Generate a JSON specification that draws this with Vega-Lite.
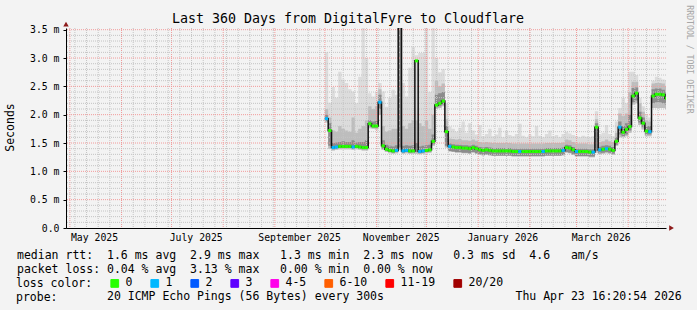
{
  "$schema": "https://vega.github.io/schema/vega-lite/v6.json",
  "width": 600,
  "height": 200,
  "autosize": {"type": "none"},
  "padding": {"left": 66, "top": 28, "right": 31, "bottom": 82},
  "background": "#f3f3f3",
  "config": {
    "view": {"stroke": null, "fill": "#ffffff"},
    "axis": {"labelFont": "DejaVu Sans Mono", "titleFont": "DejaVu Sans Mono", "labelColor": "#000000", "titleColor": "#000000", "domainColor": "#000000", "tickColor": "#000000", "titleFontWeight": "normal"}
  },
  "title": {"text": "Last 360 Days from DigitalFyre to Cloudflare", "font": "DejaVu Sans Mono", "fontSize": 13.3, "fontWeight": "normal", "color": "#000000", "anchor": "middle", "frame": "group", "baseline": "alphabetic", "dx": -18, "dy": 36, "offset": 4},
  "datasets": {
    "ping": [
      {"t": "2025-10-01T00:00:00", "m": 1.93, "l": "1", "lo": 1.86, "dl": 1.89, "dh": 2.0, "q2": 2.1, "hi": 3.1},
      {"t": "2025-10-03T00:00:00", "m": 1.72, "l": "0", "lo": 1.4, "dl": 1.45, "dh": 1.85, "q2": 1.95, "hi": 2.21},
      {"t": "2025-10-05T00:00:00", "m": 1.42, "l": "1", "lo": 1.37, "dl": 1.39, "dh": 1.5, "q2": 1.72, "hi": 2.49},
      {"t": "2025-10-07T00:00:00", "m": 1.43, "l": "1", "lo": 1.38, "dl": 1.4, "dh": 1.51, "q2": 1.7, "hi": 2.3},
      {"t": "2025-10-09T00:00:00", "m": 1.44, "l": "0", "lo": 1.39, "dl": 1.41, "dh": 1.52, "q2": 1.8, "hi": 2.76},
      {"t": "2025-10-11T00:00:00", "m": 1.44, "l": "0", "lo": 1.39, "dl": 1.41, "dh": 1.53, "q2": 1.75, "hi": 2.62},
      {"t": "2025-10-13T00:00:00", "m": 1.44, "l": "0", "lo": 1.39, "dl": 1.41, "dh": 1.52, "q2": 1.72, "hi": 2.56},
      {"t": "2025-10-15T00:00:00", "m": 1.44, "l": "0", "lo": 1.39, "dl": 1.41, "dh": 1.52, "q2": 1.7, "hi": 2.45},
      {"t": "2025-10-17T00:00:00", "m": 1.43, "l": "1", "lo": 1.38, "dl": 1.4, "dh": 1.55, "q2": 1.95, "hi": 2.41},
      {"t": "2025-10-19T00:00:00", "m": 1.44, "l": "0", "lo": 1.39, "dl": 1.41, "dh": 1.51, "q2": 1.68, "hi": 2.2},
      {"t": "2025-10-21T00:00:00", "m": 1.43, "l": "0", "lo": 1.38, "dl": 1.4, "dh": 1.52, "q2": 1.75, "hi": 2.67},
      {"t": "2025-10-23T00:00:00", "m": 1.42, "l": "0", "lo": 1.37, "dl": 1.39, "dh": 1.52, "q2": 1.8, "hi": 3.53},
      {"t": "2025-10-25T00:00:00", "m": 1.42, "l": "0", "lo": 1.37, "dl": 1.39, "dh": 1.55, "q2": 1.9, "hi": 3.0},
      {"t": "2025-10-27T00:00:00", "m": 1.84, "l": "0", "lo": 1.76, "dl": 1.79, "dh": 1.9, "q2": 2.15, "hi": 2.38},
      {"t": "2025-10-29T00:00:00", "m": 1.8, "l": "0", "lo": 1.75, "dl": 1.77, "dh": 1.88, "q2": 2.1, "hi": 2.32},
      {"t": "2025-10-31T00:00:00", "m": 1.8, "l": "0", "lo": 1.74, "dl": 1.77, "dh": 1.9, "q2": 2.15, "hi": 2.4},
      {"t": "2025-11-02T00:00:00", "m": 2.22, "l": "1", "lo": 2.0, "dl": 2.1, "dh": 2.35, "q2": 2.45, "hi": 2.56},
      {"t": "2025-11-04T00:00:00", "m": 1.45, "l": "0", "lo": 1.38, "dl": 1.4, "dh": 1.55, "q2": 1.8, "hi": 2.41},
      {"t": "2025-11-06T00:00:00", "m": 1.39, "l": "0", "lo": 1.34, "dl": 1.36, "dh": 1.47, "q2": 1.7, "hi": 2.14},
      {"t": "2025-11-08T00:00:00", "m": 1.37, "l": "0", "lo": 1.32, "dl": 1.34, "dh": 1.45, "q2": 1.72, "hi": 2.3},
      {"t": "2025-11-10T00:00:00", "m": 1.36, "l": "0", "lo": 1.31, "dl": 1.33, "dh": 1.44, "q2": 1.75, "hi": 2.44},
      {"t": "2025-11-12T00:00:00", "m": 1.37, "l": "1", "lo": 1.32, "dl": 1.34, "dh": 1.46, "q2": 1.75, "hi": 2.35},
      {"t": "2025-11-14T00:00:00", "m": 3.6, "l": "1", "lo": 1.38, "dl": 1.42, "dh": 3.6, "q2": 3.6, "hi": 3.6},
      {"t": "2025-11-16T00:00:00", "m": 1.36, "l": "1", "lo": 1.31, "dl": 1.33, "dh": 1.45, "q2": 1.8, "hi": 2.56},
      {"t": "2025-11-18T00:00:00", "m": 1.37, "l": "1", "lo": 1.32, "dl": 1.34, "dh": 1.46, "q2": 1.75, "hi": 2.32},
      {"t": "2025-11-20T00:00:00", "m": 1.36, "l": "0", "lo": 1.31, "dl": 1.33, "dh": 1.45, "q2": 1.85, "hi": 2.83},
      {"t": "2025-11-22T00:00:00", "m": 1.36, "l": "0", "lo": 1.31, "dl": 1.33, "dh": 1.46, "q2": 1.9, "hi": 3.2},
      {"t": "2025-11-24T00:00:00", "m": 2.95, "l": "0", "lo": 1.31, "dl": 1.34, "dh": 1.5, "q2": 1.9, "hi": 3.05},
      {"t": "2025-11-26T00:00:00", "m": 1.35, "l": "1", "lo": 1.3, "dl": 1.32, "dh": 1.44, "q2": 1.85, "hi": 3.09},
      {"t": "2025-11-28T00:00:00", "m": 1.36, "l": "1", "lo": 1.31, "dl": 1.33, "dh": 1.45, "q2": 1.8, "hi": 3.09},
      {"t": "2025-11-30T00:00:00", "m": 1.37, "l": "0", "lo": 1.32, "dl": 1.34, "dh": 1.46, "q2": 1.9, "hi": 3.53},
      {"t": "2025-12-02T00:00:00", "m": 1.38, "l": "0", "lo": 1.33, "dl": 1.35, "dh": 1.47, "q2": 1.75, "hi": 2.4},
      {"t": "2025-12-04T00:00:00", "m": 1.53, "l": "0", "lo": 1.45, "dl": 1.48, "dh": 1.65, "q2": 2.0, "hi": 3.53},
      {"t": "2025-12-06T00:00:00", "m": 2.17, "l": "0", "lo": 2.1, "dl": 2.13, "dh": 2.35, "q2": 2.6, "hi": 3.0},
      {"t": "2025-12-08T00:00:00", "m": 2.2, "l": "0", "lo": 2.12, "dl": 2.15, "dh": 2.38, "q2": 2.5, "hi": 2.75},
      {"t": "2025-12-10T00:00:00", "m": 2.24, "l": "0", "lo": 2.15, "dl": 2.18, "dh": 2.4, "q2": 2.55, "hi": 2.8},
      {"t": "2025-12-12T00:00:00", "m": 1.7, "l": "0", "lo": 1.42, "dl": 1.45, "dh": 1.8, "q2": 1.92, "hi": 2.2},
      {"t": "2025-12-14T00:00:00", "m": 1.44, "l": "1", "lo": 1.35, "dl": 1.36, "dh": 1.49, "q2": 1.58, "hi": 1.79},
      {"t": "2025-12-16T00:00:00", "m": 1.43, "l": "0", "lo": 1.34, "dl": 1.35, "dh": 1.48, "q2": 1.57, "hi": 1.75},
      {"t": "2025-12-18T00:00:00", "m": 1.42, "l": "0", "lo": 1.33, "dl": 1.34, "dh": 1.47, "q2": 1.56, "hi": 1.7},
      {"t": "2025-12-20T00:00:00", "m": 1.42, "l": "0", "lo": 1.33, "dl": 1.34, "dh": 1.47, "q2": 1.57, "hi": 1.77},
      {"t": "2025-12-22T00:00:00", "m": 1.41, "l": "0", "lo": 1.32, "dl": 1.33, "dh": 1.46, "q2": 1.55, "hi": 1.88},
      {"t": "2025-12-24T00:00:00", "m": 1.41, "l": "0", "lo": 1.32, "dl": 1.33, "dh": 1.46, "q2": 1.55, "hi": 1.68},
      {"t": "2025-12-26T00:00:00", "m": 1.4, "l": "0", "lo": 1.31, "dl": 1.32, "dh": 1.45, "q2": 1.54, "hi": 1.85},
      {"t": "2025-12-28T00:00:00", "m": 1.42, "l": "0", "lo": 1.33, "dl": 1.34, "dh": 1.47, "q2": 1.56, "hi": 1.72},
      {"t": "2025-12-30T00:00:00", "m": 1.4, "l": "0", "lo": 1.31, "dl": 1.32, "dh": 1.45, "q2": 1.54, "hi": 1.65},
      {"t": "2026-01-01T00:00:00", "m": 1.38, "l": "0", "lo": 1.29, "dl": 1.3, "dh": 1.43, "q2": 1.52, "hi": 1.82},
      {"t": "2026-01-03T00:00:00", "m": 1.37, "l": "0", "lo": 1.28, "dl": 1.29, "dh": 1.42, "q2": 1.51, "hi": 1.62},
      {"t": "2026-01-05T00:00:00", "m": 1.38, "l": "0", "lo": 1.29, "dl": 1.3, "dh": 1.43, "q2": 1.52, "hi": 1.66},
      {"t": "2026-01-07T00:00:00", "m": 1.37, "l": "0", "lo": 1.28, "dl": 1.29, "dh": 1.42, "q2": 1.51, "hi": 1.75},
      {"t": "2026-01-09T00:00:00", "m": 1.36, "l": "0", "lo": 1.27, "dl": 1.28, "dh": 1.41, "q2": 1.5, "hi": 1.62},
      {"t": "2026-01-11T00:00:00", "m": 1.36, "l": "0", "lo": 1.27, "dl": 1.28, "dh": 1.41, "q2": 1.5, "hi": 1.65},
      {"t": "2026-01-13T00:00:00", "m": 1.36, "l": "0", "lo": 1.27, "dl": 1.28, "dh": 1.41, "q2": 1.5, "hi": 1.77},
      {"t": "2026-01-15T00:00:00", "m": 1.36, "l": "0", "lo": 1.27, "dl": 1.28, "dh": 1.41, "q2": 1.5, "hi": 1.6},
      {"t": "2026-01-17T00:00:00", "m": 1.36, "l": "0", "lo": 1.27, "dl": 1.28, "dh": 1.41, "q2": 1.5, "hi": 1.72},
      {"t": "2026-01-19T00:00:00", "m": 1.36, "l": "0", "lo": 1.27, "dl": 1.28, "dh": 1.41, "q2": 1.5, "hi": 1.64},
      {"t": "2026-01-21T00:00:00", "m": 1.35, "l": "0", "lo": 1.26, "dl": 1.27, "dh": 1.4, "q2": 1.49, "hi": 1.62},
      {"t": "2026-01-23T00:00:00", "m": 1.35, "l": "0", "lo": 1.26, "dl": 1.27, "dh": 1.4, "q2": 1.49, "hi": 1.66},
      {"t": "2026-01-25T00:00:00", "m": 1.35, "l": "1", "lo": 1.26, "dl": 1.27, "dh": 1.4, "q2": 1.49, "hi": 1.84},
      {"t": "2026-01-27T00:00:00", "m": 1.35, "l": "0", "lo": 1.26, "dl": 1.27, "dh": 1.4, "q2": 1.49, "hi": 1.63},
      {"t": "2026-01-29T00:00:00", "m": 1.35, "l": "0", "lo": 1.26, "dl": 1.27, "dh": 1.4, "q2": 1.49, "hi": 1.6},
      {"t": "2026-01-31T00:00:00", "m": 1.35, "l": "0", "lo": 1.26, "dl": 1.27, "dh": 1.4, "q2": 1.49, "hi": 1.65},
      {"t": "2026-02-02T00:00:00", "m": 1.35, "l": "0", "lo": 1.26, "dl": 1.27, "dh": 1.4, "q2": 1.49, "hi": 1.62},
      {"t": "2026-02-04T00:00:00", "m": 1.35, "l": "0", "lo": 1.26, "dl": 1.27, "dh": 1.4, "q2": 1.49, "hi": 1.8},
      {"t": "2026-02-06T00:00:00", "m": 1.35, "l": "0", "lo": 1.26, "dl": 1.27, "dh": 1.4, "q2": 1.49, "hi": 1.63},
      {"t": "2026-02-08T00:00:00", "m": 1.35, "l": "1", "lo": 1.26, "dl": 1.27, "dh": 1.4, "q2": 1.49, "hi": 1.6},
      {"t": "2026-02-10T00:00:00", "m": 1.36, "l": "0", "lo": 1.27, "dl": 1.28, "dh": 1.41, "q2": 1.5, "hi": 1.66},
      {"t": "2026-02-12T00:00:00", "m": 1.36, "l": "0", "lo": 1.27, "dl": 1.28, "dh": 1.41, "q2": 1.5, "hi": 1.72},
      {"t": "2026-02-14T00:00:00", "m": 1.36, "l": "0", "lo": 1.27, "dl": 1.28, "dh": 1.41, "q2": 1.5, "hi": 1.62},
      {"t": "2026-02-16T00:00:00", "m": 1.36, "l": "0", "lo": 1.27, "dl": 1.28, "dh": 1.41, "q2": 1.5, "hi": 1.64},
      {"t": "2026-02-18T00:00:00", "m": 1.36, "l": "0", "lo": 1.27, "dl": 1.28, "dh": 1.41, "q2": 1.5, "hi": 1.6},
      {"t": "2026-02-20T00:00:00", "m": 1.37, "l": "1", "lo": 1.28, "dl": 1.29, "dh": 1.42, "q2": 1.51, "hi": 1.66},
      {"t": "2026-02-22T00:00:00", "m": 1.42, "l": "0", "lo": 1.33, "dl": 1.34, "dh": 1.47, "q2": 1.56, "hi": 1.7},
      {"t": "2026-02-24T00:00:00", "m": 1.41, "l": "0", "lo": 1.32, "dl": 1.33, "dh": 1.46, "q2": 1.55, "hi": 1.67},
      {"t": "2026-02-26T00:00:00", "m": 1.38, "l": "0", "lo": 1.29, "dl": 1.3, "dh": 1.43, "q2": 1.52, "hi": 1.64},
      {"t": "2026-02-28T00:00:00", "m": 1.35, "l": "1", "lo": 1.26, "dl": 1.27, "dh": 1.4, "q2": 1.49, "hi": 1.62},
      {"t": "2026-03-02T00:00:00", "m": 1.35, "l": "0", "lo": 1.26, "dl": 1.27, "dh": 1.4, "q2": 1.49, "hi": 1.6},
      {"t": "2026-03-04T00:00:00", "m": 1.35, "l": "0", "lo": 1.26, "dl": 1.27, "dh": 1.4, "q2": 1.49, "hi": 1.63},
      {"t": "2026-03-06T00:00:00", "m": 1.35, "l": "0", "lo": 1.26, "dl": 1.27, "dh": 1.4, "q2": 1.49, "hi": 1.61},
      {"t": "2026-03-08T00:00:00", "m": 1.34, "l": "0", "lo": 1.25, "dl": 1.26, "dh": 1.39, "q2": 1.48, "hi": 1.6},
      {"t": "2026-03-10T00:00:00", "m": 1.34, "l": "1", "lo": 1.25, "dl": 1.26, "dh": 1.39, "q2": 1.48, "hi": 1.62},
      {"t": "2026-03-12T00:00:00", "m": 1.78, "l": "0", "lo": 1.33, "dl": 1.36, "dh": 1.85, "q2": 1.92, "hi": 2.06},
      {"t": "2026-03-14T00:00:00", "m": 1.38, "l": "1", "lo": 1.3, "dl": 1.32, "dh": 1.44, "q2": 1.52, "hi": 1.65},
      {"t": "2026-03-16T00:00:00", "m": 1.39, "l": "0", "lo": 1.31, "dl": 1.33, "dh": 1.45, "q2": 1.53, "hi": 1.68},
      {"t": "2026-03-18T00:00:00", "m": 1.4, "l": "1", "lo": 1.32, "dl": 1.34, "dh": 1.46, "q2": 1.56, "hi": 1.82},
      {"t": "2026-03-20T00:00:00", "m": 1.39, "l": "0", "lo": 1.31, "dl": 1.33, "dh": 1.45, "q2": 1.53, "hi": 1.66},
      {"t": "2026-03-22T00:00:00", "m": 1.37, "l": "0", "lo": 1.29, "dl": 1.31, "dh": 1.43, "q2": 1.52, "hi": 1.62},
      {"t": "2026-03-24T00:00:00", "m": 1.53, "l": "0", "lo": 1.45, "dl": 1.47, "dh": 1.6, "q2": 1.68, "hi": 1.88},
      {"t": "2026-03-26T00:00:00", "m": 1.78, "l": "1", "lo": 1.6, "dl": 1.65, "dh": 1.88, "q2": 2.02, "hi": 2.12},
      {"t": "2026-03-28T00:00:00", "m": 1.69, "l": "0", "lo": 1.6, "dl": 1.62, "dh": 1.8, "q2": 1.98, "hi": 2.3},
      {"t": "2026-03-30T00:00:00", "m": 1.74, "l": "0", "lo": 1.62, "dl": 1.65, "dh": 1.85, "q2": 2.02, "hi": 2.2},
      {"t": "2026-04-01T00:00:00", "m": 1.79, "l": "0", "lo": 1.68, "dl": 1.72, "dh": 2.0, "q2": 2.4, "hi": 2.76},
      {"t": "2026-04-03T00:00:00", "m": 2.33, "l": "0", "lo": 2.18, "dl": 2.22, "dh": 2.47, "q2": 2.58, "hi": 2.76},
      {"t": "2026-04-05T00:00:00", "m": 2.38, "l": "0", "lo": 2.2, "dl": 2.25, "dh": 2.48, "q2": 2.58, "hi": 2.7},
      {"t": "2026-04-07T00:00:00", "m": 1.94, "l": "0", "lo": 1.82, "dl": 1.86, "dh": 2.05, "q2": 2.2, "hi": 2.3},
      {"t": "2026-04-09T00:00:00", "m": 1.85, "l": "0", "lo": 1.74, "dl": 1.78, "dh": 1.95, "q2": 2.05, "hi": 2.15},
      {"t": "2026-04-11T00:00:00", "m": 1.71, "l": "0", "lo": 1.62, "dl": 1.65, "dh": 1.8, "q2": 1.9, "hi": 2.0},
      {"t": "2026-04-13T00:00:00", "m": 1.7, "l": "1", "lo": 1.62, "dl": 1.65, "dh": 1.8, "q2": 1.88, "hi": 1.95},
      {"t": "2026-04-15T00:00:00", "m": 2.33, "l": "0", "lo": 2.12, "dl": 2.2, "dh": 2.45, "q2": 2.55, "hi": 2.6},
      {"t": "2026-04-17T00:00:00", "m": 2.36, "l": "0", "lo": 2.12, "dl": 2.22, "dh": 2.46, "q2": 2.56, "hi": 2.67},
      {"t": "2026-04-19T00:00:00", "m": 2.36, "l": "0", "lo": 2.12, "dl": 2.22, "dh": 2.46, "q2": 2.56, "hi": 2.65},
      {"t": "2026-04-21T00:00:00", "m": 2.35, "l": "0", "lo": 2.12, "dl": 2.2, "dh": 2.44, "q2": 2.55, "hi": 2.62},
      {"t": "2026-04-23T00:00:00", "m": 2.29, "l": "0", "lo": 2.1, "dl": 2.18, "dh": 2.4, "q2": 2.5, "hi": 2.6},
      {"t": "2026-04-23T16:20:54", "m": 2.29, "l": "0", "lo": 2.1, "dl": 2.18, "dh": 2.4, "q2": 2.5, "hi": 2.6}
    ],
    "wk": [
      {"t": "2025-05-04T00:00:00"}, {"t": "2025-05-11T00:00:00"}, {"t": "2025-05-18T00:00:00"}, {"t": "2025-05-25T00:00:00"},
      {"t": "2025-06-01T00:00:00"}, {"t": "2025-06-08T00:00:00"}, {"t": "2025-06-15T00:00:00"}, {"t": "2025-06-22T00:00:00"}, {"t": "2025-06-29T00:00:00"},
      {"t": "2025-07-06T00:00:00"}, {"t": "2025-07-13T00:00:00"}, {"t": "2025-07-20T00:00:00"}, {"t": "2025-07-27T00:00:00"},
      {"t": "2025-08-03T00:00:00"}, {"t": "2025-08-10T00:00:00"}, {"t": "2025-08-17T00:00:00"}, {"t": "2025-08-24T00:00:00"}, {"t": "2025-08-31T00:00:00"},
      {"t": "2025-09-07T00:00:00"}, {"t": "2025-09-14T00:00:00"}, {"t": "2025-09-21T00:00:00"}, {"t": "2025-09-28T00:00:00"},
      {"t": "2025-10-05T00:00:00"}, {"t": "2025-10-12T00:00:00"}, {"t": "2025-10-19T00:00:00"}, {"t": "2025-10-26T00:00:00"},
      {"t": "2025-11-02T00:00:00"}, {"t": "2025-11-09T00:00:00"}, {"t": "2025-11-16T00:00:00"}, {"t": "2025-11-23T00:00:00"}, {"t": "2025-11-30T00:00:00"},
      {"t": "2025-12-07T00:00:00"}, {"t": "2025-12-14T00:00:00"}, {"t": "2025-12-21T00:00:00"}, {"t": "2025-12-28T00:00:00"},
      {"t": "2026-01-04T00:00:00"}, {"t": "2026-01-11T00:00:00"}, {"t": "2026-01-18T00:00:00"}, {"t": "2026-01-25T00:00:00"},
      {"t": "2026-02-01T00:00:00"}, {"t": "2026-02-08T00:00:00"}, {"t": "2026-02-15T00:00:00"}, {"t": "2026-02-22T00:00:00"},
      {"t": "2026-03-01T00:00:00"}, {"t": "2026-03-08T00:00:00"}, {"t": "2026-03-15T00:00:00"}, {"t": "2026-03-22T00:00:00"}, {"t": "2026-03-29T00:00:00"},
      {"t": "2026-04-05T00:00:00"}, {"t": "2026-04-12T00:00:00"}, {"t": "2026-04-19T00:00:00"}
    ],
    "mo": [
      {"t": "2025-05-01T00:00:00"}, {"t": "2025-06-01T00:00:00"}, {"t": "2025-07-01T00:00:00"}, {"t": "2025-08-01T00:00:00"},
      {"t": "2025-09-01T00:00:00"}, {"t": "2025-10-01T00:00:00"}, {"t": "2025-11-01T00:00:00"}, {"t": "2025-12-01T00:00:00"},
      {"t": "2026-01-01T00:00:00"}, {"t": "2026-02-01T00:00:00"}, {"t": "2026-03-01T00:00:00"}, {"t": "2026-04-01T00:00:00"}
    ],
    "ymin": [
      {"v": 0.1}, {"v": 0.2}, {"v": 0.3}, {"v": 0.4}, {"v": 0.6}, {"v": 0.7}, {"v": 0.8}, {"v": 0.9},
      {"v": 1.1}, {"v": 1.2}, {"v": 1.3}, {"v": 1.4}, {"v": 1.6}, {"v": 1.7}, {"v": 1.8}, {"v": 1.9},
      {"v": 2.1}, {"v": 2.2}, {"v": 2.3}, {"v": 2.4}, {"v": 2.6}, {"v": 2.7}, {"v": 2.8}, {"v": 2.9},
      {"v": 3.1}, {"v": 3.2}, {"v": 3.3}, {"v": 3.4}
    ],
    "ymaj": [
      {"v": 0.5}, {"v": 1.0}, {"v": 1.5}, {"v": 2.0}, {"v": 2.5}, {"v": 3.0}, {"v": 3.5}
    ],
    "xarrow": [{"t": "2026-04-27T00:00:00", "v": 0}],
    "yarrow": [{"t": "2025-04-28T16:20:54", "v": 3.6}],
    "probe": [{"p": "20 ICMP Echo Pings (56 Bytes) every 300s\u00a0\u00a0\u00a0\u00a0\u00a0\u00a0\u00a0\u00a0\u00a0\u00a0\u00a0\u00a0\u00a0\u00a0\u00a0\u00a0\u00a0\u00a0\u00a0Thu Apr 23 16:20:54 2026"}]
  },
  "layer": [
    {
      "data": {"name": "ping"},
      "mark": {"type": "area", "interpolate": "step-after", "color": "#dcdcdc", "clip": true},
      "encoding": {
        "x": {
          "field": "t", "type": "temporal",
          "scale": {"domain": [{"year": 2025, "month": 4, "date": 28, "hours": 16, "minutes": 20, "seconds": 54}, {"year": 2026, "month": 4, "date": 23, "hours": 16, "minutes": 20, "seconds": 54}]},
          "axis": {
            "values": [
              {"year": 2025, "month": 5, "date": 15, "hours": 12},
              {"year": 2025, "month": 7, "date": 15, "hours": 12},
              {"year": 2025, "month": 9, "date": 15, "hours": 12},
              {"year": 2025, "month": 11, "date": 15, "hours": 12},
              {"year": 2026, "month": 1, "date": 15, "hours": 12},
              {"year": 2026, "month": 3, "date": 15, "hours": 12}
            ],
            "format": "%B %Y",
            "labelFontSize": 9.8,
            "labelPadding": 4,
            "labelOverlap": false,
            "labelFlush": false,
            "ticks": false,
            "grid": false,
            "title": [
              "median rtt:\u00a0\u00a01.6 ms avg\u00a0\u00a02.9 ms max\u00a0\u00a0\u00a01.3 ms min\u00a0\u00a02.3 ms now\u00a0\u00a0\u00a00.3 ms sd\u00a0\u00a04.6\u00a0\u00a0\u00a0am/s",
              "packet loss: 0.04 % avg\u00a0\u00a03.13 % max\u00a0\u00a0\u00a00.00 % min\u00a0\u00a00.00 % now"
            ],
            "titleX": -49.5,
            "titleY": 30,
            "titleAlign": "left",
            "titleAnchor": "start",
            "titleBaseline": "alphabetic",
            "titleFontSize": 11.5,
            "titleLineHeight": 14
          }
        },
        "y": {
          "field": "lo", "type": "quantitative",
          "scale": {"domain": [0, 3.53], "nice": false, "zero": false},
          "axis": {
            "orient": "left",
            "values": [0, 0.5, 1, 1.5, 2, 2.5, 3, 3.5],
            "labelExpr": "datum.value == 0 ? '0.0\u00a0\u00a0' : format(datum.value, '.1f') + ' m'",
            "labelFontSize": 9.8,
            "labelPadding": 4,
            "tickSize": 3,
            "grid": false,
            "title": "Seconds",
            "titleX": -55.5,
            "titleY": 99,
            "titleAngle": -90,
            "titleAlign": "center",
            "titleBaseline": "middle",
            "titleFontSize": 11.5
          }
        },
        "y2": {"field": "hi"}
      }
    },
    {
      "data": {"name": "ping"},
      "mark": {"type": "area", "interpolate": "step-after", "color": "#bdbdbd", "clip": true},
      "encoding": {
        "x": {"field": "t", "type": "temporal"},
        "y": {"field": "lo", "type": "quantitative", "axis": null},
        "y2": {"field": "q2"}
      }
    },
    {
      "data": {"name": "ping"},
      "mark": {"type": "area", "interpolate": "step-after", "color": "#8c8c8c", "clip": true},
      "encoding": {
        "x": {"field": "t", "type": "temporal"},
        "y": {"field": "dl", "type": "quantitative", "axis": null},
        "y2": {"field": "dh"}
      }
    },
    {
      "data": {"name": "wk"},
      "mark": {"type": "rule", "color": "#c4c4c4", "strokeDash": [1, 1], "strokeWidth": 1},
      "encoding": {"x": {"field": "t", "type": "temporal"}}
    },
    {
      "data": {"name": "mo"},
      "mark": {"type": "rule", "color": "#f29a9a", "strokeDash": [1, 1], "strokeWidth": 1},
      "encoding": {"x": {"field": "t", "type": "temporal"}}
    },
    {
      "data": {"name": "ymin"},
      "mark": {"type": "rule", "color": "#c4c4c4", "strokeDash": [1, 1], "strokeWidth": 1},
      "encoding": {"y": {"field": "v", "type": "quantitative", "axis": null}}
    },
    {
      "data": {"name": "ymaj"},
      "mark": {"type": "rule", "color": "#f29a9a", "strokeDash": [1, 1], "strokeWidth": 1},
      "encoding": {
        "y": {
          "field": "v", "type": "quantitative",
          "axis": {
            "orient": "right",
            "labels": false, "ticks": false, "domain": false, "grid": false,
            "title": "RRDTOOL / TOBI OETIKER",
            "titleAngle": 90,
            "titleX": 22.5,
            "titleY": 31,
            "titleAlign": "center",
            "titleBaseline": "middle",
            "titleFontSize": 8.2,
            "titleColor": "#a6a6a6"
          }
        }
      }
    },
    {
      "data": {"name": "ping"},
      "mark": {"type": "line", "interpolate": "step-after", "color": "#111111", "strokeWidth": 1.5, "clip": true},
      "encoding": {
        "x": {"field": "t", "type": "temporal"},
        "y": {"field": "m", "type": "quantitative", "axis": null}
      }
    },
    {
      "data": {"name": "ping"},
      "transform": [
        {"window": [{"op": "lead", "field": "t", "as": "t2"}]},
        {"filter": "datum.t2 != null"}
      ],
      "mark": {"type": "rule", "strokeWidth": 3, "clip": true},
      "encoding": {
        "x": {"field": "t", "type": "temporal"},
        "x2": {"field": "t2"},
        "y": {"field": "m", "type": "quantitative", "axis": null},
        "color": {
          "field": "l", "type": "nominal",
          "scale": {
            "domain": ["0", "1", "2", "3", "4-5", "6-10", "11-19", "20/20"],
            "range": ["#26ff00", "#00b8ff", "#0059ff", "#5e00ff", "#ff00ea", "#ff5f00", "#ff0000", "#a10000"]
          },
          "legend": {
            "orient": "none",
            "legendX": -50,
            "legendY": 249.5,
            "direction": "horizontal",
            "title": "loss color:",
            "titleOrient": "left",
            "titleFont": "DejaVu Sans Mono",
            "titleFontSize": 11.5,
            "titleFontWeight": "normal",
            "titleColor": "#000000",
            "titlePadding": 16,
            "padding": 0,
            "symbolType": "square",
            "symbolSize": 60,
            "symbolStrokeWidth": 1,
            "symbolStrokeColor": "#000000",
            "labelFont": "DejaVu Sans Mono",
            "labelFontSize": 11.5,
            "labelColor": "#000000",
            "labelOffset": 5,
            "columnPadding": 15,
            "encode": {
              "symbols": {
                "update": {
                  "fill": {"scale": "color", "field": "value"},
                  "fillOpacity": {"value": 1},
                  "stroke": {"value": "#000000"},
                  "strokeWidth": {"value": 1},
                  "strokeDash": {"value": []}
                }
              }
            }
          }
        }
      }
    },
    {
      "data": {"name": "probe"},
      "mark": {"type": "point", "opacity": 0},
      "encoding": {
        "shape": {
          "field": "p", "type": "nominal",
          "legend": {
            "orient": "none",
            "legendX": -50,
            "legendY": 263.5,
            "direction": "horizontal",
            "title": "probe:",
            "titleOrient": "left",
            "titleFont": "DejaVu Sans Mono",
            "titleFontSize": 11.5,
            "titleFontWeight": "normal",
            "titleColor": "#000000",
            "titlePadding": 37.5,
            "padding": 0,
            "symbolSize": 0,
            "symbolOpacity": 0,
            "symbolStrokeWidth": 0,
            "labelFont": "DejaVu Sans Mono",
            "labelFontSize": 11.5,
            "labelColor": "#000000",
            "labelOffset": 0,
            "labelLimit": 0
          }
        }
      }
    },
    {
      "data": {"name": "xarrow"},
      "mark": {"type": "point", "shape": "triangle-right", "filled": true, "color": "#8e1b1b", "size": 30, "opacity": 1},
      "encoding": {
        "x": {"field": "t", "type": "temporal"},
        "y": {"field": "v", "type": "quantitative", "axis": null}
      }
    },
    {
      "data": {"name": "yarrow"},
      "mark": {"type": "point", "shape": "triangle-up", "filled": true, "color": "#8e1b1b", "size": 30, "opacity": 1},
      "encoding": {
        "x": {"field": "t", "type": "temporal"},
        "y": {"field": "v", "type": "quantitative", "axis": null}
      }
    }
  ],
  "resolve": {"axis": {"y": "independent"}}
}
